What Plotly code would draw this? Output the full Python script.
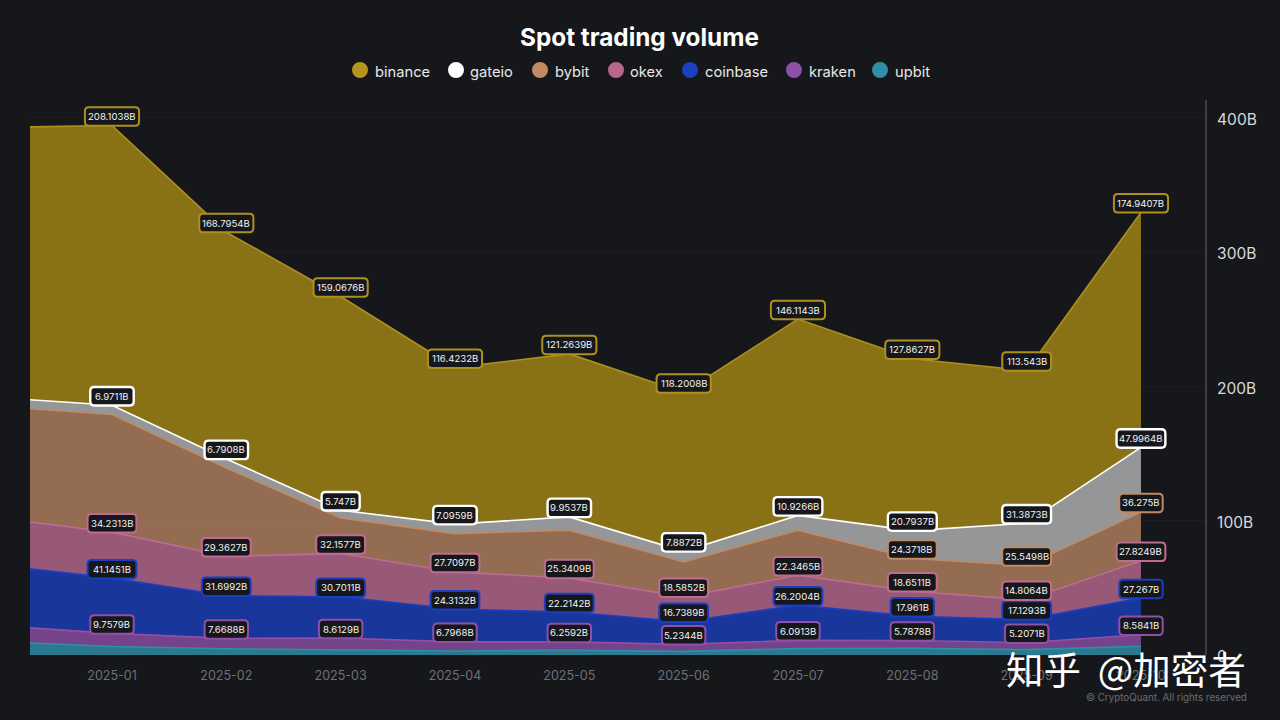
import plotly.graph_objects as go

months = ["2024-12", "2025-01", "2025-02", "2025-03", "2025-04", "2025-05", "2025-06",
          "2025-07", "2025-08", "2025-09", "2025-10"]

# Stack order, bottom to top (values in billions). The 2024-12 point only shows as the clipped left edge.
upbit = [10, 6.3, 4.7, 4, 3, 3.5, 2.7, 4.8, 5, 4, 6.5]
kraken = [11.8, 9.7579, 7.6688, 8.6129, 6.7968, 6.2592, 5.2344, 6.0913, 5.7878, 5.2071, 8.5841]
coinbase = [45, 41.1451, 31.6992, 30.7011, 24.3132, 22.2142, 16.7389, 26.2004, 17.961, 17.1293, 27.267]
okex = [35.2, 34.2313, 29.3627, 32.1577, 27.7097, 25.3409, 18.5852, 22.3465, 18.6511, 14.8064, 27.8249]
bybit = [83, 87.5, 65.7, 26.5, 28.5, 35.5, 26, 33.5, 24.3718, 25.5498, 36.275]
gateio = [6.6, 6.9711, 6.7908, 5.747, 7.0959, 9.9537, 7.8872, 10.9266, 20.7937, 31.3873, 47.9964]
binance = [201, 208.1038, 168.7954, 159.0676, 116.4232, 121.2639, 118.2008, 146.1143, 127.8627, 113.543, 174.9407]

series = [
    ("upbit", upbit, "#2F8FA8", "rgba(47,143,168,0.82)", False),
    ("kraken", kraken, "#9150A8", "rgba(145,80,168,0.78)", True),
    ("coinbase", coinbase, "#1B3FBF", "rgba(27,63,191,0.78)", True),
    ("okex", okex, "#BE6C94", "rgba(190,108,148,0.78)", True),
    ("bybit", bybit, "#BF8A64", "rgba(191,138,100,0.74)", False),
    ("gateio", gateio, "#FFFFFF", "rgba(255,255,255,0.55)", True),
    ("binance", binance, "#AD9020", "rgba(173,143,20,0.76)", True),
]
legend_order = ["binance", "gateio", "bybit", "okex", "coinbase", "kraken", "upbit"]
legend_marker_px = [360, 456, 540, 616, 690, 794, 880]

y_ticks = [0, 100, 200, 300, 400]
y_labels = ["0", "100B", "200B", "300B", "400B"]

BG = "#16171B"
W, H = 1280, 720
L, R, T, B = 30, 75, 100, 64.5

fig = go.Figure()
for name, vals, col, fill, _ in series:
    fig.add_trace(go.Scatter(x=months, y=vals, name=name, stackgroup="one", mode="lines",
                             line=dict(color=col, width=1.6, shape="linear"),
                             fillcolor=fill, showlegend=False, hoverinfo="skip"))


def rounded(w, h, r, dy):
    x0, x1, y0, y1 = -w / 2, w / 2, dy - h / 2, dy + h / 2
    return (f"M {x0+r} {y0} L {x1-r} {y0} Q {x1} {y0} {x1} {y0+r} L {x1} {y1-r} Q {x1} {y1} {x1-r} {y1} "
            f"L {x0+r} {y1} Q {x0} {y1} {x0} {y1-r} L {x0} {y0+r} Q {x0} {y0} {x0+r} {y0} Z")


def fmt(v):
    return f"{v:.4f}".rstrip("0").rstrip(".") + "B"


shapes, annotations = [], []
running = [0.0] * len(months)
for name, vals, col, fill, always in series:
    running = [a + b for a, b in zip(running, vals)]
    for i, m in enumerate(months):
        if i == 0:
            continue
        if not always and not (name == "bybit" and i >= 8):
            continue
        txt = fmt(vals[i])
        w = 5.35 * len(txt) + 6
        lw = 2.4 if name == "gateio" else 2
        shapes.append(dict(type="path", xref="x", yref="y", xsizemode="pixel", ysizemode="pixel",
                           xanchor=m, yanchor=running[i], path=rounded(w, 18.5, 4, 9),
                           fillcolor=BG, line=dict(color=col, width=lw), layer="above"))
        annotations.append(dict(x=m, y=running[i], yshift=9, text=txt, showarrow=False,
                                font=dict(family="Inter", size=9.6, color="#F2F2F2"),
                                xanchor="center", yanchor="middle"))

# Legend
for px, name in zip(legend_marker_px, legend_order):
    col = next(s[2] for s in series if s[0] == name)
    mk = {"binance": "#B4961E", "okex": "#B9668F", "coinbase": "#1C40BE", "kraken": "#8E50A6"}.get(name, col)
    shapes.append(dict(type="circle", xref="paper", yref="paper", xsizemode="pixel", ysizemode="pixel",
                       xanchor=(px - L) / (W - L - R), yanchor=(H - B - 70) / (H - T - B),
                       x0=-8, x1=8, y0=-8, y1=8, fillcolor=mk, line=dict(width=0)))
    annotations.append(dict(xref="paper", yref="paper", x=(px + 12.5 - L) / (W - L - R),
                            y=(H - B - 71.5) / (H - T - B), text=name, showarrow=False, xanchor="left",
                            yanchor="middle", font=dict(family="Inter", size=14.7, color="#E8E8E8")))

# Title
annotations.append(dict(xref="paper", yref="paper", x=(639 - L) / (W - L - R), y=(H - B - 37) / (H - T - B),
                        text="<b>Spot trading volume</b>", showarrow=False, xanchor="center", yanchor="middle",
                        font=dict(family="Inter", size=24.3, color="#FFFFFF")))
# Credits and overlay text
annotations.append(dict(xref="paper", yref="paper", x=(1249 - L) / (W - L - R), y=(H - B - 698) / (H - T - B),
                        text="© CryptoQuant. All rights reserved", showarrow=False, xanchor="right",
                        yanchor="middle", font=dict(family="Inter", size=9.8, color="#6C6D72")))
annotations.append(dict(xref="paper", yref="paper", x=(1248 - L) / (W - L - R), y=(H - B - 668) / (H - T - B),
                        text="知乎\u00a0\u00a0@加密者", showarrow=False, xanchor="right", yanchor="middle",
                        font=dict(family="Noto Sans CJK SC", size=37.5, color="#FFFFFF")))

fig.update_layout(
    width=W, height=H, margin=dict(l=L, r=R, t=T, b=B, pad=0),
    paper_bgcolor=BG, plot_bgcolor=BG, showlegend=False,
    shapes=shapes, annotations=annotations,
    xaxis=dict(type="category", categoryorder="array", categoryarray=months,
               range=[0.283, 10.56], tickmode="array", tickvals=months[1:], ticktext=months[1:],
               showgrid=False, zeroline=False, showline=False, ticks="", ticklabelstandoff=11,
               tickfont=dict(family="Inter", size=12.5, color="#6F7076")),
    yaxis=dict(side="right", range=[0, 413], tickmode="array", tickvals=y_ticks, ticktext=y_labels,
               showgrid=True, gridcolor="rgba(255,255,255,0.03)", gridwidth=1, zeroline=False,
               showline=True, linecolor="#3C3D42", linewidth=2, ticks="", ticklabelstandoff=7,
               ticklabelshift=2,
               tickfont=dict(family="Inter", size=15.5, color="#DADADA")),
)

fig.write_html("out.html", config={"displayModeBar": False},
               post_script="document.body.style.margin='0';document.body.style.background='#16171B';")
